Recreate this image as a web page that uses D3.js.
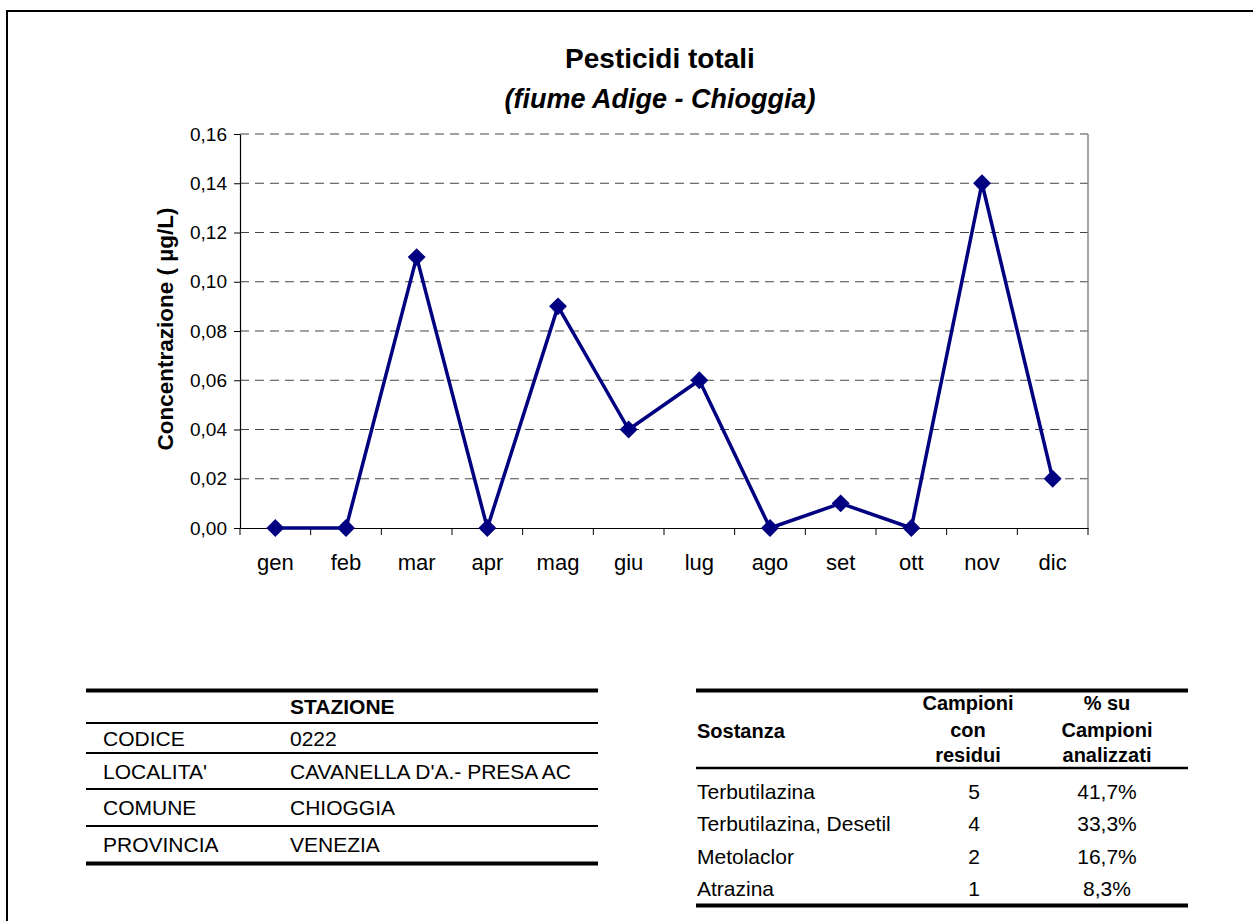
<!DOCTYPE html>
<html><head><meta charset="utf-8">
<script src="https://cdn.jsdelivr.net/npm/d3@7"></script>
<style>
html,body{margin:0;padding:0;background:#fff;}
svg{display:block;font-family:"Liberation Sans",Arial,sans-serif;}
</style></head>
<body>
<svg id="chart" width="1253" height="921"></svg>
<script>
const months = ["gen","feb","mar","apr","mag","giu","lug","ago","set","ott","nov","dic"];
const values = [0,0,0.11,0,0.09,0.04,0.06,0,0.01,0,0.14,0.02];
const yTicks = [0,0.02,0.04,0.06,0.08,0.10,0.12,0.14,0.16];
const stationLabels = ["CODICE","LOCALITA'","COMUNE","PROVINCIA"];
const stationValues = ["0222","CAVANELLA D'A.- PRESA AC","CHIOGGIA","VENEZIA"];
const substances = ["Terbutilazina","Terbutilazina, Desetil","Metolaclor","Atrazina"];
const samplesWithResidues = [5,4,2,1];
const percentOfSamples = ["41,7%","33,3%","16,7%","8,3%"];

(function(){
const svg = d3.select("#chart");
const FS = 21;

// outer frame (only top/left visible)
svg.append("rect").attr("x",7).attr("y",11).attr("width",1300).attr("height",1000)
  .attr("fill","none").attr("stroke","#000").attr("stroke-width",2);

const pL=240, pR=1088, pT=134, pB=528;
const x = d3.scaleBand().domain(months).range([pL,pR]);
const y = d3.scaleLinear().domain([0,0.16]).range([pB,pT]);
const fmt = d => d3.format(".2f")(d).replace(".",",");

// gridlines
svg.append("g").selectAll("line").data(yTicks.filter(d=>d>0)).join("line")
  .attr("x1",pL).attr("x2",pR).attr("y1",d=>y(d)).attr("y2",d=>y(d))
  .attr("stroke","#444").attr("stroke-width",1).attr("stroke-dasharray","9,6");

// right border of plot
svg.append("line").attr("x1",pR).attr("x2",pR).attr("y1",pT).attr("y2",pB)
  .attr("stroke","#888").attr("stroke-width",1.5);

// y axis
const yAxis = d3.axisLeft(y).tickValues(yTicks).tickFormat(fmt).tickSize(6).tickPadding(7).tickSizeOuter(0);
const gy = svg.append("g").attr("transform",`translate(${pL},0)`).call(yAxis);
gy.select(".domain").attr("stroke","#000").attr("stroke-width",1.2);
gy.selectAll(".tick line").attr("stroke","#000");
gy.selectAll("text").attr("font-size",19).attr("font-family","Liberation Sans, Arial").attr("fill","#000");

// x axis
const xAxis = d3.axisBottom(x).tickSize(0);
const gx = svg.append("g").attr("transform",`translate(0,${pB})`).call(xAxis);
gx.select(".domain").attr("stroke","#000").attr("stroke-width",1.2);
gx.selectAll("text").attr("font-size",22).attr("font-family","Liberation Sans, Arial").attr("fill","#000")
  .attr("y",42).attr("dy","0");
// boundary tick marks
const bounds = months.map(m=>x(m)).concat([pR]);
svg.append("g").selectAll("line").data(bounds).join("line")
  .attr("x1",d=>d).attr("x2",d=>d).attr("y1",pB).attr("y2",pB+7)
  .attr("stroke","#000").attr("stroke-width",1);

// line
const cx = m => x(m)+x.bandwidth()/2;
const line = d3.line().x((d,i)=>cx(months[i])).y(d=>y(d));
svg.append("path").datum(values).attr("d",line).attr("fill","none")
  .attr("stroke","#000080").attr("stroke-width",3.5).attr("stroke-linejoin","round");
const sym = d3.symbol().type(d3.symbolSquare).size(160);
svg.append("g").selectAll("path").data(values).join("path")
  .attr("d",sym).attr("fill","#000080")
  .attr("transform",(d,i)=>`translate(${cx(months[i])},${y(d)}) rotate(45)`);

// titles
svg.append("text").attr("x",660).attr("y",68).attr("text-anchor","middle")
  .attr("font-size",28).attr("font-weight","bold").text("Pesticidi totali");
svg.append("text").attr("x",660).attr("y",108).attr("text-anchor","middle")
  .attr("font-size",27).attr("font-weight","bold").attr("font-style","italic").text("(fiume Adige - Chioggia)");
svg.append("text").attr("transform","translate(173,329) rotate(-90)").attr("text-anchor","middle")
  .attr("font-size",22.5).attr("font-weight","bold").text("Concentrazione ( µg/L)");

// station table
const t1 = svg.append("g");
const t1x0=86, t1x1=598;
t1.append("line").attr("x1",t1x0).attr("x2",t1x1).attr("y1",690.5).attr("y2",690.5).attr("stroke","#000").attr("stroke-width",4);
t1.append("text").attr("x",290).attr("y",714).attr("font-size",FS).attr("font-weight","bold").text("STAZIONE");
const rowLines1=[723,753,789,826];
rowLines1.forEach(yy=>t1.append("line").attr("x1",t1x0).attr("x2",t1x1).attr("y1",yy).attr("y2",yy).attr("stroke","#000").attr("stroke-width",2));
t1.append("line").attr("x1",t1x0).attr("x2",t1x1).attr("y1",863.5).attr("y2",863.5).attr("stroke","#000").attr("stroke-width",4);
const rowBase1=[745.5,778.5,815,852];
stationLabels.forEach((l,i)=>{
  t1.append("text").attr("x",103).attr("y",rowBase1[i]).attr("font-size",FS).text(l);
  t1.append("text").attr("x",290).attr("y",rowBase1[i]).attr("font-size",FS).text(stationValues[i]);
});

// substances table
const t2 = svg.append("g");
const t2x0=696, t2x1=1188;
t2.append("line").attr("x1",t2x0).attr("x2",t2x1).attr("y1",690.5).attr("y2",690.5).attr("stroke","#000").attr("stroke-width",4);
t2.append("text").attr("x",697).attr("y",738).attr("font-size",FS-1).attr("font-weight","bold").text("Sostanza");
[["Campioni",710],["con",737],["residui",762]].forEach(([t,yy])=>t2.append("text").attr("x",968).attr("y",yy).attr("text-anchor","middle").attr("font-size",FS-1).attr("font-weight","bold").text(t));
[["% su",710],["Campioni",737],["analizzati",762]].forEach(([t,yy])=>t2.append("text").attr("x",1107).attr("y",yy).attr("text-anchor","middle").attr("font-size",FS-1).attr("font-weight","bold").text(t));
t2.append("line").attr("x1",t2x0).attr("x2",t2x1).attr("y1",768).attr("y2",768).attr("stroke","#000").attr("stroke-width",2.5);
const rowBase2=[798.5,830.5,863.5,895.5];
substances.forEach((s,i)=>{
  t2.append("text").attr("x",697).attr("y",rowBase2[i]).attr("font-size",FS).text(s);
  t2.append("text").attr("x",974).attr("y",rowBase2[i]).attr("text-anchor","middle").attr("font-size",FS).text(samplesWithResidues[i]);
  t2.append("text").attr("x",1107).attr("y",rowBase2[i]).attr("text-anchor","middle").attr("font-size",FS).text(percentOfSamples[i]);
});
t2.append("line").attr("x1",t2x0).attr("x2",t2x1).attr("y1",905.5).attr("y2",905.5).attr("stroke","#000").attr("stroke-width",4);
})();
</script>
</body></html>
